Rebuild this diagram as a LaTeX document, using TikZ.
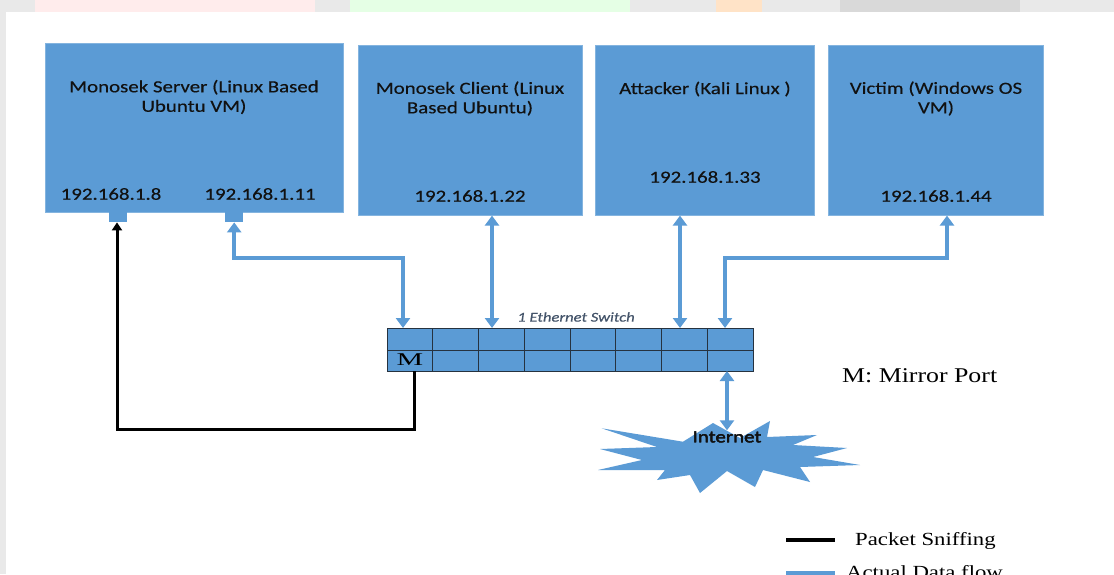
\documentclass[tikz,border=0pt]{standalone}
\usepackage{fontspec}
\setmainfont{Carlito}[FakeStretch=1.23,FakeBold=0.35]
\newfontfamily\serifA{Liberation Serif}[FakeStretch=1.23]
\usetikzlibrary{arrows.meta,calc}
\definecolor{boxblue}{HTML}{5B9BD5}
\definecolor{swline}{HTML}{26323F}
\definecolor{txt}{HTML}{111111}
\definecolor{swtxt}{HTML}{44546A}
\definecolor{bandgray}{HTML}{E9E9E9}
\begin{document}
\begin{tikzpicture}[x=1pt,y=-1pt,
  box/.style={fill=boxblue, draw=boxblue!75!white, line width=0.6pt, anchor=north west, inner sep=0},
  tab/.style={fill=boxblue, draw=none, anchor=north west, inner sep=0, minimum width=18pt, minimum height=10pt},
  lbl/.style={font=\fontsize{17}{19.5}\selectfont, text=txt, align=center, inner sep=0},
  sertxt/.style={font=\serifA\fontsize{18.5}{21}\selectfont, text=black, inner sep=0},
  flow/.style={draw=boxblue, line width=4pt, {Triangle[width=14pt,length=10pt]}-{Triangle[width=14pt,length=10pt]}},
  sniff/.style={draw=black, line width=3pt, -{Triangle[width=10pt,length=8pt]}},
  swgrid/.style={draw=swline, line width=0.8pt}
]
\useasboundingbox (0,0) rectangle (1114,574);
\clip (0,0) rectangle (1114,574);
% page background with faint header band
\fill[bandgray] (0,0) rectangle (1114,574);
\fill[pink!30] (35,0) rectangle (315,12);
\fill[green!10] (350,0) rectangle (630,12);
\fill[orange!22] (716,0) rectangle (762,12);
\fill[gray!30] (840,0) rectangle (1020,12);
\fill[white] (6,12) rectangle (1114,574);

% host boxes
\node[box, minimum width=298pt, minimum height=169pt] (srv) at (45,43) {};
\node[tab] (tabA) at (109,212) {};
\node[tab] (tabB) at (225,212) {};
\node[box, minimum width=224pt, minimum height=170pt] (cli) at (358,45) {};
\node[box, minimum width=219pt, minimum height=170pt] (att) at (595,45) {};
\node[box, minimum width=215pt, minimum height=170pt] (vic) at (828,45) {};

\node[lbl] (srvT) at (194,97) {Monosek Server (Linux Based\\Ubuntu VM)};
\node[lbl] (ip8) at (111,194) {192.168.1.8};
\node[lbl] (ip11) at (260,194) {192.168.1.11};
\node[lbl] (cliT) at (470,98.5) {Monosek Client (Linux\\Based Ubuntu)};
\node[lbl] (ip22) at (470,196) {192.168.1.22};
\node[lbl] (attT) at (705,89) {Attacker (Kali Linux )};
\node[lbl] (ip33) at (705,177) {192.168.1.33};
\node[lbl] (vicT) at (936,98.5) {Victim (Windows OS\\VM)};
\node[lbl] (ip44) at (936,196) {192.168.1.44};

% internet burst
\fill[boxblue] (601.7,428.3) -- (683,441.7) -- (713,423) -- (740,438) -- (770,421) -- (767,437)
  -- (817,435) -- (793,445) -- (847,448) -- (813,457) -- (860,465) -- (800,467) -- (810,482)
  -- (763,470) -- (755,487) -- (727,471) -- (700,493) -- (690,475) -- (657,480) -- (665,470)
  -- (598,470) -- (642,460) -- (600,449) -- (657,447) -- cycle;

% switch
\node[box, draw=swline, line width=0.8pt, minimum width=366pt, minimum height=43pt] (sw) at (387,328) {};
\foreach \i in {1,...,7}
  \draw[swgrid] ($(sw.north west)+(\i*45.75,0)$) -- ($(sw.south west)+(\i*45.75,0)$);
\draw[swgrid] (sw.west) -- (sw.east);
\node[font=\itshape\fontsize{13.5}{15}\selectfont, text=swtxt, inner sep=0] (swT) at (576,317) {1 Ethernet Switch};
\node[sertxt, font=\serifA\fontsize{18}{20}\selectfont] (mlbl) at (410,360) {\scalebox{1.35}[1]{M}};

% ports
\coordinate (p1) at (403,328);
\coordinate (p2) at (492,328);
\coordinate (p3) at (680,328);
\coordinate (p4) at (725,328);
\coordinate (pin) at (727,371);
\coordinate (pm) at (414,371);
\coordinate (vb) at (947,258);
\coordinate (sb) at (117,429);

% connectors
\draw[flow] (tabB.south) |- ($(p1)+(0,-70)$) -- (p1);
\draw[flow] (p2 |- cli.south) -- (p2);
\draw[flow] (p3 |- att.south) -- (p3);
\draw[flow] (p4) -- (p4 |- vb) -- (vb) -- (vb |- vic.south);
\node[lbl] (inet) at (727,437) {Internet};
\draw[flow] (pin) -- ($(inet.north)+(0,-1)$);
\node[lbl] at (727,437) {Internet};
\draw[sniff] (pm) -- (pm |- sb) -- (sb) -- (sb |- tabA.south);

% legend
\node[sertxt, font=\serifA\fontsize{21}{24}\selectfont, anchor=west] (mirror) at (842,376) {M: Mirror Port};
\coordinate (l1a) at (786,540);
\coordinate (l1b) at (835,540);
\draw[black, line width=3.5pt] (l1a) -- (l1b);
\node[sertxt, anchor=west] (legS) at (855,541) {Packet Sniffing};
\coordinate (l2a) at (786,574);
\coordinate (l2b) at (835,574);
\draw[boxblue, line width=7pt] (l2a) -- (l2b);
\node[sertxt, anchor=base west] (legD) at (846,578) {Actual Data flow};
\end{tikzpicture}
\end{document}
